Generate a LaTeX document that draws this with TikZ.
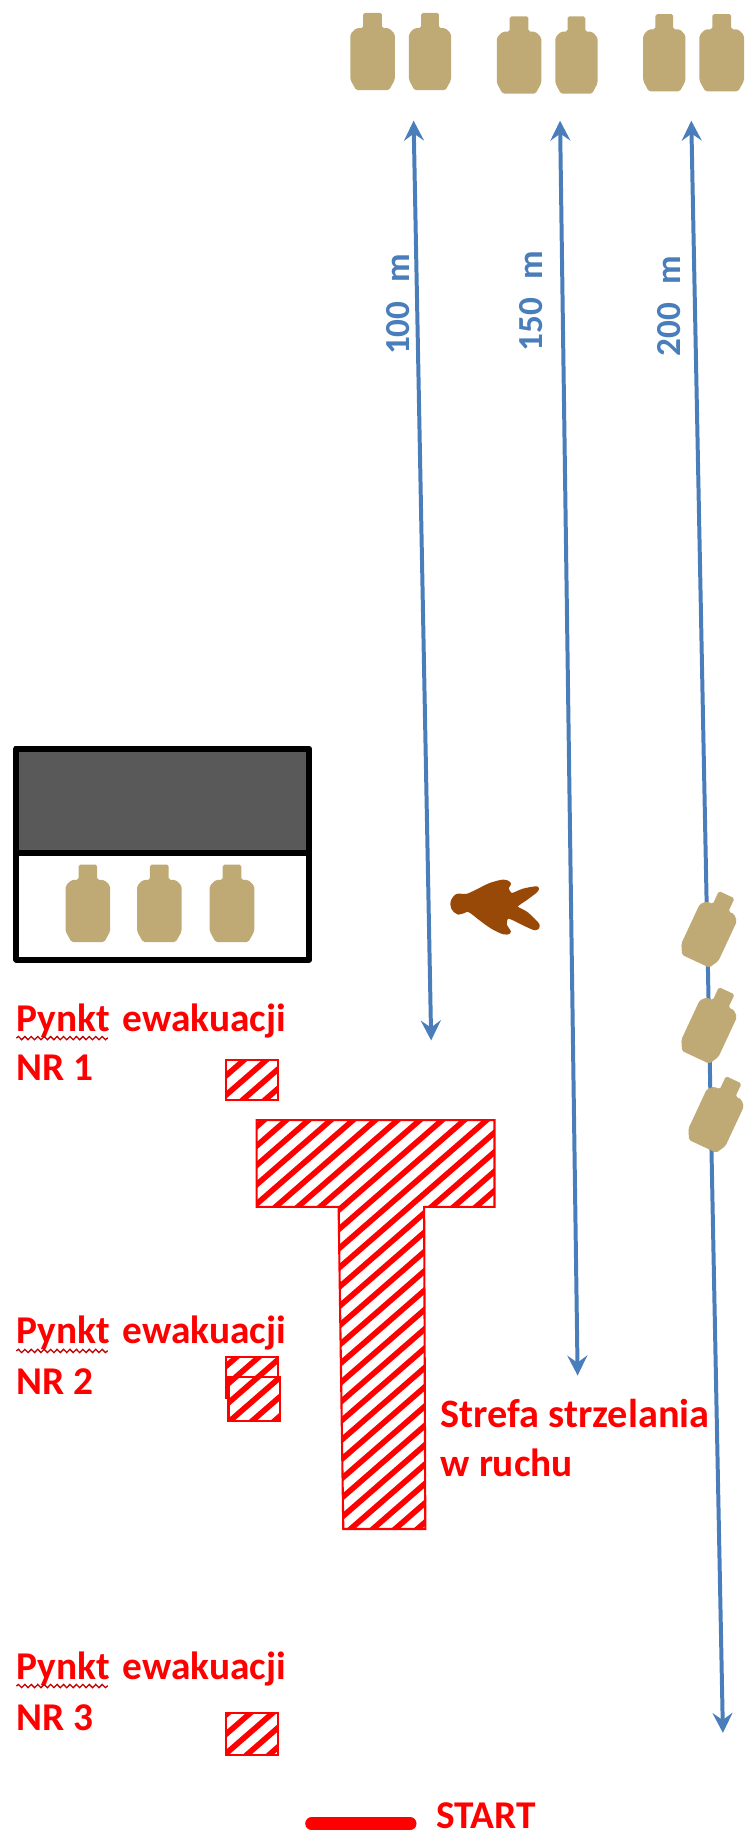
\documentclass[tikz,border=0pt]{standalone}
\usepackage{fontspec}
\setmainfont{Carlito}
\usetikzlibrary{arrows.meta,decorations.pathmorphing}
\definecolor{tan1}{HTML}{BFAA75}
\definecolor{blue1}{HTML}{4A7EBB}
\definecolor{brown1}{HTML}{984807}
\definecolor{grey1}{HTML}{595959}
\tikzset{
  x=1pt,y=1pt,
  target/.pic={\fill[tan1,rounded corners=1.5] (-8,33)--(8,33)--(8,20)--(14,20)--(19,15)--(19,-24)--(14,-33)--(-14,-33)--(-19,-24)--(-19,15)--(-14,20)--(-8,20)--cycle;},
  dist/.style={draw=blue1,line width=3.4,{Stealth[length=17,width=17,inset=6]}-{Stealth[length=17,width=17,inset=6]}},
  distlabel/.style={text=blue1,font=\bfseries\fontsize{30}{30}\selectfont,rotate=90,inner sep=0},
  redlabel/.style={text=red,font=\bfseries\fontsize{33.6}{33.6}\selectfont,anchor=base west,inner sep=0},
  squiggle/.style={draw=red!75!black,line width=1.1,decorate,decoration={snake,amplitude=1.4,segment length=5.5}},
  hatched/.style={draw=red,line width=1.8,fill=white,
    path picture={\foreach \k in {-1560,-1541,...,700}{\draw[red,line width=4.8] (\k,-1567)--(\k+1600,-175);}}},
}
\begin{document}
\begin{tikzpicture}
\useasboundingbox (0,-1567) rectangle (635,0);
% distance arrows
\coordinate (a1t) at (353,-103); \coordinate (a1b) at (368,-888);
\coordinate (a2t) at (478,-103); \coordinate (a2b) at (493,-1174);
\coordinate (a3t) at (590,-103); \coordinate (a3b) at (617,-1479);
\draw[dist] (a1t)--(a1b);
\draw[dist] (a2t)--(a2b);
\draw[dist] (a3t)--(a3b);
\node[distlabel] (l100) at (340,-260) {100\hspace{0.3em} m};
\node[distlabel] (l150) at (453,-257) {150\hspace{0.3em} m};
\node[distlabel] (l200) at (571,-261) {200\hspace{0.3em} m};
% top targets
\pic at (318,-44) {target};
\pic[xscale=.95] at (367,-44) {target};
\pic at (443,-47) {target};
\pic[xscale=.95] at (492,-47) {target};
\pic[xscale=.95] at (567,-45) {target};
\pic at (616,-45) {target};
% shed
\fill[grey1] (12,-637) rectangle (265,-728);
\draw[line width=5,line join=round] (14,-639) rectangle (264,-819);
\draw[line width=5] (14,-728)--(264,-728);
\pic at (75,-771) {target};
\pic at (136,-771) {target};
\pic at (198,-771) {target};
% person
\filldraw[brown1,line width=2.6,line join=round] plot[smooth cycle,tension=.5] coordinates {(386,-769.5)(390,-764.2)(398.3,-764.2)(406.8,-760.5)(418.2,-754.9)(429.6,-752)(434.8,-754)(432.8,-758.1)(436.7,-763.4)(446.6,-759.7)(458.4,-757.7)(457,-761)(449.5,-766.7)(440.5,-773.8)(449.5,-779.5)(459.3,-789.4)(457,-792.7)(449.5,-789.8)(433.8,-782.7)(431.4,-789.4)(434.8,-795.5)(429.6,-796.1)(419.6,-791.3)(409.6,-784.1)(399.7,-777)(391.2,-779.3)(386.5,-775.2)};
\fill[brown1] (393,-771.5) circle[radius=8.5];
% rotated targets over the 200 m arrow
\pic[rotate=-25,xscale=.92,yscale=.95] at (607,-792) {target};
\pic[rotate=-25,xscale=.92,yscale=.95] at (607,-874) {target};
\pic[rotate=-25,xscale=.92,yscale=.95] at (613,-950) {target};
% zones
\path[hatched] (219,-956)--(422,-956)--(422,-1030)--(362,-1030)--(363,-1305)--(293,-1305)--(289,-1030)--(219,-1030)--cycle;
\path[hatched] (193,-905) rectangle (237,-939);
\path[hatched] (193,-1158) rectangle (237,-1193);
\path[hatched] (195,-1175) rectangle (239,-1213);
\path[hatched] (193,-1462) rectangle (237,-1498);
% labels
\node[redlabel] (p1) at (14,-880) {Pynkt\hspace{0.1em} ewakuacji};
\node[redlabel] (n1) at (14,-922) {NR 1};
\node[redlabel] (p2) at (14,-1147) {Pynkt\hspace{0.1em} ewakuacji};
\node[redlabel] (n2) at (14,-1190) {NR 2};
\node[redlabel] (p3) at (14,-1433) {Pynkt\hspace{0.1em} ewakuacji};
\node[redlabel] (n3) at (14,-1477) {NR 3};
\node[redlabel,font=\bfseries\fontsize{34.4}{34.4}\selectfont] (s1) at (376,-1218) {Strefa strzelania};
\node[redlabel] (s2) at (376,-1260) {w ruchu};
\node[redlabel] (st) at (372,-1561) {START};
\draw[squiggle] (14,-886)--(92,-886);
\draw[squiggle] (14,-1153)--(92,-1153);
\draw[squiggle] (14,-1439)--(92,-1439);
\draw[red,line width=11,line cap=round] (266,-1556.5)--(350,-1556.5);
\end{tikzpicture}
\end{document}
